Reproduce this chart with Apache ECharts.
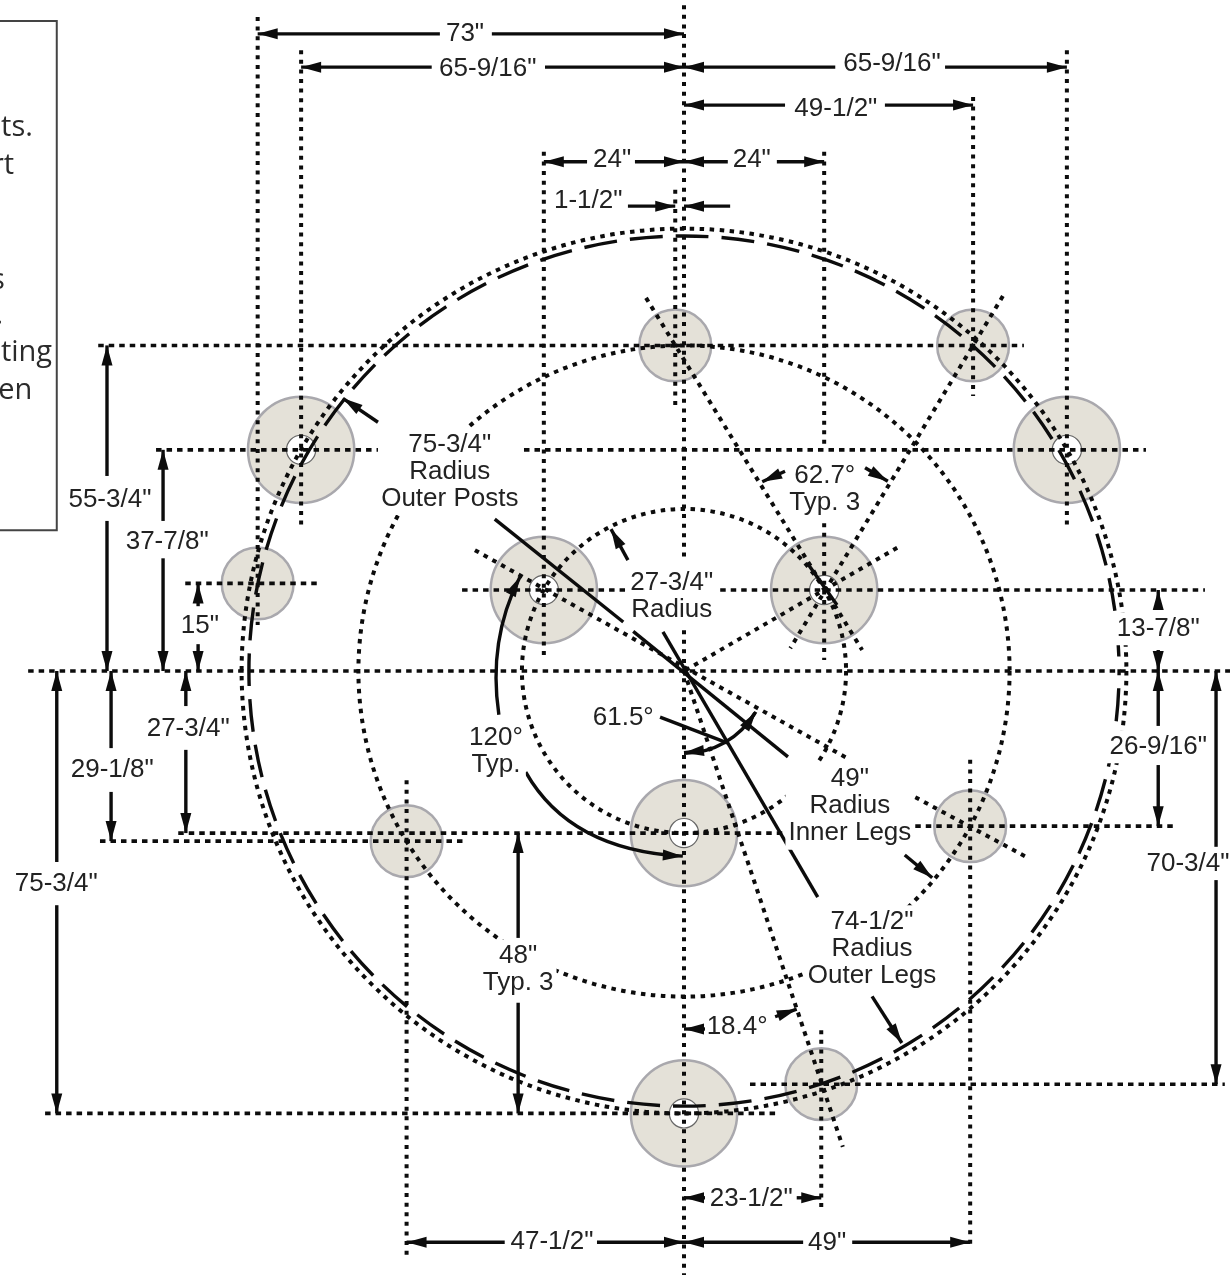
<!DOCTYPE html>
<html><head><meta charset="utf-8"><style>html,body{margin:0;padding:0;background:#fff}#c{width:1230px;height:1275px}</style>
<script src="https://cdn.jsdelivr.net/npm/echarts@6/dist/echarts.min.js"></script></head>
<body><div id="c"></div>
<script>
// All values in inches from the centre of the layout.
const outerPosts=[[-65.56,37.875],[65.56,37.875],[0,-75.75]];
const innerPosts=[[-24,13.875],[24,13.875],[0,-27.75]];
const legs=[[-1.5,55.75],[49.5,55.75],[-73,15],[-47.5,-29.125],[49,-26.56],[23.5,-70.75]];
const dottedRadii=[75.75,55.75,27.75];
const dashedRadii=[74.5];
const hDotted=[[55.75,-100.3,58.2],[37.875,-90.4,-52.4],[37.875,-27.4,79.1],[15,-85.4,-62.3],[13.875,-38,-10.1],[13.875,6.2,89.2],[0,-112.3,93.5],[-27.75,-86.6,17],[-26.56,39.6,84.1],[-29.125,-100,-37.8],[-70.75,11.3,92.6],[-75.75,-109.4,16.4]];
const vDotted=[[-73,112,7.9],[-65.56,106.3,25],[-47.5,-18.7,-100],[-24,88.9,1.9],[-1.5,82.4,44.7],[0,114,19],[0,7,-103.4],[24,88.9,38.7],[24,25.3,1.9],[49.5,98.3,47.1],[65.56,106.3,25],[49,-15.2,-98.3],[23.5,-61.5,-92.3]];
const diagDotted=[[-6.5,63.9,30.5,3.6],[54.6,64.2,18.2,3.9],[36.5,21.1,0,0],[-35.8,20.7,27.9,-14.9],[0,0,27.2,-81.5],[39.6,-21.6,58.9,-32]];
const solids=[[-32.4,26,-10.4,8.4],[-8.7,6.8,17.8,-14.7],[-3.6,6.7,22.9,-38.7],[-4.1,-7.9,7.4,-12.3],[21.1,18.5,26.2,11.3]];
const arrows=[
[-41.8,109.1,-73,109.1],[-32.9,109.1,0,109.1],
[-43.2,103.4,-65.56,103.4],[-23.8,103.4,0,103.4],[25.9,103.4,0,103.4],[44.7,103.4,65.56,103.4],
[17.3,96.9,0,96.9],[34.4,96.9,49.5,96.9],
[-16.6,87.2,-24,87.2],[-8.4,87.2,0,87.2],[7.5,87.2,0,87.2],[15.9,87.2,24,87.2],
[-9.6,79.6,-1.5,79.6],[7.9,79.6,0,79.6],
[-30.7,-97.8,-47.5,-97.8],[-14.9,-97.8,0,-97.8],[20.4,-97.8,0,-97.8],[28.8,-97.8,49,-97.8],
[3.6,-90.2,0,-90.2],[19.3,-90.2,23.5,-90.2],
[3.6,-61.3,0,-61.3],[15.6,-59.2,19.3,-57.9],
[17.3,34.2,13.4,32.4],[31,34.8,34.9,32.5],
[-98.8,33.4,-98.8,55.75],[-98.8,25.7,-98.8,0],
[-89.2,25.7,-89.2,37.875],[-89.2,19.3,-89.2,0],
[-83.2,11.1,-83.2,15],[-83.2,4.6,-83.2,0],
[-98.1,-13.2,-98.1,0],[-98.1,-20.7,-98.1,-29.125],
[-85.3,-6,-85.3,0],[-85.3,-13.5,-85.3,-27.75],
[-107.4,-32.7,-107.4,0],[-107.4,-40.1,-107.4,-75.75],
[81.2,11,81.2,13.875],[81.2,3.6,81.2,0],
[81.2,-9.4,81.2,0],[81.2,-16.1,81.2,-26.56],
[91.1,-30.1,91.1,0],[91.1,-35.8,91.1,-70.75],
[-28.4,-45.7,-28.4,-27.75],[-28.4,-56.8,-28.4,-75.75],
[-52.4,42.6,-58.4,46.7],[-9.6,19,-12.5,24.3],[37.8,-31.5,42.5,-35.4],[32.2,-55.7,37.3,-63.7],
[2.7,-13.7,0,-14],[10.4,-9.8,12.3,-7]
];
const curves=[[-31.7,-7.5,-33.6,5.3,-28.1,16.1],[-27.1,-17.3,-19.5,-30.7,-0.2,-31.7]];
const angleArc=[0,0,14.1,30.6,90];
const dimLabels=[
['73"',-37.5,109.4,1],['65-9/16"',-33.6,103.4,1],['65-9/16"',35.6,104.3,1],['49-1/2"',26,96.6,1],
['24"',-12.3,87.8,1],['24"',11.6,87.8,1],['1-1/2"',-16.4,80.7,0],
['55-3/4"',-98.3,29.6,1],['37-7/8"',-88.5,22.4,1],['15"',-82.9,8,0],['13-7/8"',81.2,7.5,1],['26-9/16"',81.2,-12.7,1],
['27-3/4"',-84.9,-9.6,1],['29-1/8"',-97.9,-16.6,1],['75-3/4"',-107.5,-36.1,1],['70-3/4"',86.3,-32.7,1],
['48"\nTyp. 3',-28.4,-50.9,1],['120°\nTyp.',-32.2,-13.5,1],['61.5°',-10.4,-7.7,0],
['27-3/4"\nRadius',-2.1,13,1],['75-3/4"\nRadius\nOuter Posts',-40.1,34.4,1],['62.7°\nTyp. 3',24.1,31.3,0],
['49"\nRadius\nInner Legs',28.4,-22.9,1],['74-1/2"\nRadius\nOuter Legs',32.2,-47.3,1],
['18.4°',9.1,-60.6,0],['23-1/2"',11.5,-90.1,0],['47-1/2"',-22.6,-97.4,1],['49"',24.5,-97.6,1]
];
const noteBox=[-125,111.3,-107.4,24.1];
const noteFragments=[['sts.',-111.5,93.5],['rt',-114.7,87],['s',-116.3,67.3],['.',-116.6,61.3],['ting',-108.2,55],['en',-111.6,48.5]];

const INK='#0c0c0c';
function series(arr,z,draw){return{type:'custom',coordinateSystem:'cartesian2d',z,silent:true,clip:false,
  data:arr.map((_,i)=>[i]),renderItem:(p,api)=>draw(arr[p.dataIndex],api)};}
function ln(a,b,style){return{type:'line',shape:{x1:a[0],y1:a[1],x2:b[0],y2:b[1]},style};}
const dotH={stroke:INK,lineWidth:3.6,lineDash:[5.5,5]};
const dotV={stroke:INK,lineWidth:4,lineDash:[4,5.6]};
const dotD={stroke:INK,lineWidth:4,lineDash:[4.5,5.5]};
const solid={stroke:INK,lineWidth:3.4};
function post(r,hole){return(d,api)=>{const c=api.coord(d),R=api.size([r,0])[0];
  const kids=[{type:'circle',shape:{cx:c[0],cy:c[1],r:R},style:{fill:'#e4e1d8',stroke:'#a9a8ad',lineWidth:2.5}}];
  if(hole)kids.push({type:'circle',shape:{cx:c[0],cy:c[1],r:api.size([hole,0])[0]},style:{fill:'#fff',stroke:'#666',lineWidth:1.2}});
  return{type:'group',children:kids};};}
function head(tip,from){const L=20,W=5.5,dx=tip[0]-from[0],dy=tip[1]-from[1],n=Math.hypot(dx,dy)||1,ux=dx/n,uy=dy/n;
  const bx=tip[0]-ux*L,by=tip[1]-uy*L;
  return{type:'polygon',shape:{points:[tip,[bx-uy*W,by+ux*W],[bx+uy*W,by-ux*W]]},style:{fill:INK}};}
function arrow(d,api){const a=api.coord([d[0],d[1]]),b=api.coord([d[2],d[3]]);
  return{type:'group',children:[ln(a,b,solid),head(b,a)]};}
function curve(d,api){const a=api.coord([d[0],d[1]]),c=api.coord([d[2],d[3]]),b=api.coord([d[4],d[5]]);
  return{type:'group',children:[{type:'bezierCurve',shape:{x1:a[0],y1:a[1],x2:b[0],y2:b[1],cpx1:c[0],cpy1:c[1]},style:{stroke:INK,lineWidth:3.4,fill:null}},head(b,c)]};}
function ring(style){return(R,api)=>{const c=api.coord([0,0]);return{type:'circle',shape:{cx:c[0],cy:c[1],r:api.size([R,0])[0]},style};};}

const chart=echarts.init(document.getElementById('c'),null,{renderer:'canvas'});
chart.setOption({animation:false,backgroundColor:'#fff',
 grid:{left:0,right:0,top:0,bottom:0},
 xAxis:{type:'value',min:-117.12,max:93.49,show:false},
 yAxis:{type:'value',min:-103.42,max:114.9,show:false},
 series:[
  series(outerPosts,1,post(9.1,2.5)),series(innerPosts,1,post(9.1,2.5)),series(legs,1,post(6.15,0)),
  series(dottedRadii,2,ring({fill:null,stroke:INK,lineWidth:4,lineDash:[4.5,5.5]})),
  series(dashedRadii,2,ring({fill:null,stroke:INK,lineWidth:3.4,lineDash:[33,13],lineDashOffset:28.6})),
  series(hDotted,2,(d,api)=>ln(api.coord([d[1],d[0]]),api.coord([d[2],d[0]]),dotH)),
  series(vDotted,2,(d,api)=>ln(api.coord([d[0],d[1]]),api.coord([d[0],d[2]]),dotV)),
  series(diagDotted,2,(d,api)=>ln(api.coord([d[0],d[1]]),api.coord([d[2],d[3]]),dotD)),
  series(solids,3,(d,api)=>ln(api.coord([d[0],d[1]]),api.coord([d[2],d[3]]),solid)),
  series(curves,3,curve),
  series([angleArc],3,(d,api)=>{const c=api.coord([d[0],d[1]]);return{type:'arc',shape:{cx:c[0],cy:c[1],r:api.size([d[2],0])[0],startAngle:d[3]*Math.PI/180,endAngle:d[4]*Math.PI/180,clockwise:true},style:{stroke:INK,lineWidth:3.4,fill:null}};}),
  series(dimLabels,4,(d,api)=>{const c=api.coord([d[1],d[2]]);return{type:'text',style:{text:d[0],x:c[0],y:c[1]+1.5,align:'center',verticalAlign:'middle',font:'26px "Liberation Sans"',lineHeight:27,fill:'#222',backgroundColor:d[3]?'#fff':'transparent',padding:[3,3]}};}),
  series(arrows,5,arrow),
  series([noteBox],6,(d,api)=>{const a=api.coord([d[0],d[1]]),b=api.coord([d[2],d[3]]);return{type:'rect',shape:{x:a[0],y:a[1],width:b[0]-a[0],height:b[1]-a[1]},style:{fill:null,stroke:'#444',lineWidth:2}};}),
  series(noteFragments,6,(d,api)=>{const c=api.coord([d[1],d[2]]);return{type:'text',style:{text:d[0],x:c[0],y:c[1]+3,align:'right',verticalAlign:'middle',font:'29px "Open Sans"',fill:'#2b2b2b'}};})
 ]});
</script></body></html>
